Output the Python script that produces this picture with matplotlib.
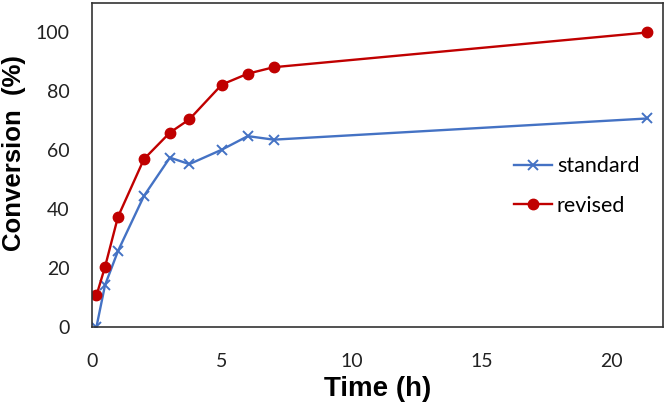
import numpy as np
import matplotlib
matplotlib.use("Agg")
import matplotlib.pyplot as plt

# data
time_std = [0.17, 0.5, 1, 2, 3, 3.75, 5, 6, 7, 21.4]
conv_std = [0, 14.2, 25.8, 44.5, 57.5, 55.3, 60.2, 64.8, 63.6, 70.8]
time_rev = [0.17, 0.5, 1, 2, 3, 3.75, 5, 6, 7, 21.4]
conv_rev = [10.7, 20.4, 37.4, 57, 66, 70.5, 82.3, 86, 88.2, 100]

xticks = [0, 5, 10, 15, 20]
yticks = [0, 20, 40, 60, 80, 100]

plt.rcParams['font.family'] = ['Lato', 'DejaVu Sans']

fig = plt.figure(figsize=(6.64, 4.05), dpi=100)
ax = fig.add_axes([0.1386, 0.1926, 0.86, 0.80])

ax.plot(time_std, conv_std, color="#4472C4", lw=1.7, marker="x", ms=7, mew=1.4, label="standard")
ax.plot(time_rev, conv_rev, color="#C00000", lw=1.7, marker="o", ms=7.5, label="revised")

ax.set_xlim(0, 22)
ax.set_ylim(0, 110)
ax.set_xticks(xticks)
ax.set_yticks(yticks)
ax.tick_params(length=0, labelsize=14, colors="#222222")
ax.tick_params(axis="x", pad=19)
ax.tick_params(axis="y", pad=16)
for s in ax.spines.values():
    s.set_color("#333333")
    s.set_linewidth(1.2)

lab_font = dict(family=["Liberation Sans", "DejaVu Sans"], fontweight="bold")
ax.set_xlabel("Time (h)", fontsize=20, **lab_font)
ax.set_ylabel("Conversion  (%)", fontsize=18.5, **lab_font)
ax.xaxis.label.set_va("center")
ax.yaxis.label.set_va("center")
ax.xaxis.set_label_coords(0.5, -0.192)
ax.yaxis.set_label_coords(-0.137, 0.537)

ax.legend(loc="upper left", bbox_to_anchor=(0.7235, 0.553), borderaxespad=0, frameon=False,
          fontsize=15.5, handlelength=1.77, handletextpad=0.23, labelspacing=0.9)

fig.savefig("out.png", dpi=100)
